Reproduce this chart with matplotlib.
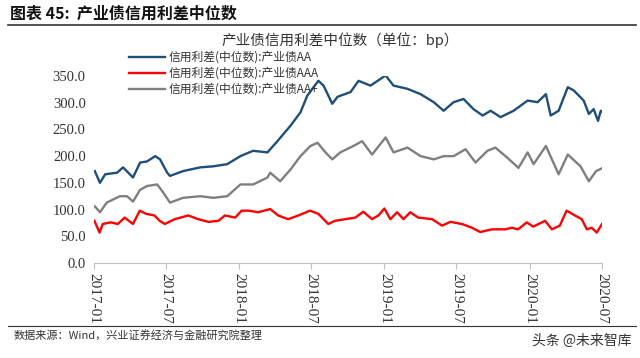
import matplotlib
matplotlib.use("Agg")
import matplotlib.pyplot as plt
import matplotlib.dates as mdates
import pandas as pd
from matplotlib.lines import Line2D

plt.rcParams['font.family'] = ['Noto Sans CJK SC', 'DejaVu Sans']

# ---- data ----
aa_dates = ["2017-01-03", "2017-01-16", "2017-01-29", "2017-02-28", "2017-03-15", "2017-04-09",
            "2017-04-27", "2017-05-14", "2017-06-04", "2017-06-16", "2017-07-04", "2017-07-11",
            "2017-08-13", "2017-09-25", "2017-10-28", "2017-12-02", "2018-01-04", "2018-02-05",
            "2018-03-13", "2018-04-07", "2018-05-10", "2018-06-04", "2018-06-21", "2018-07-04",
            "2018-07-19", "2018-08-01", "2018-08-23", "2018-09-05", "2018-10-08", "2018-10-28",
            "2018-11-27", "2019-01-04", "2019-01-24", "2019-02-28", "2019-04-02", "2019-05-05",
            "2019-05-30", "2019-06-24", "2019-07-19", "2019-08-13", "2019-09-05", "2019-09-25",
            "2019-10-20", "2019-11-22", "2019-12-27", "2020-01-21", "2020-02-11", "2020-02-23",
            "2020-03-14", "2020-04-06", "2020-04-21", "2020-05-16", "2020-05-29", "2020-06-10",
            "2020-06-21", "2020-06-28", "2020-07-03"]
aa_values = [172, 150, 166, 169, 179, 160, 188, 190, 200, 194, 169, 163, 172, 179, 181, 185,
             200, 210, 207, 228, 257, 282, 313, 326, 341, 332, 298, 311, 320, 341, 332, 351,
             332, 326, 316, 301, 285, 301, 307, 288, 276, 285, 273, 285, 304, 301, 316, 276,
             285, 329, 323, 304, 279, 288, 266, 285, 282]

aaa_dates = ["2017-01-02", "2017-01-15", "2017-01-23", "2017-02-12", "2017-03-02", "2017-03-19",
             "2017-04-09", "2017-04-26", "2017-05-12", "2017-06-02", "2017-06-15", "2017-06-28",
             "2017-07-23", "2017-08-26", "2017-09-20", "2017-10-16", "2017-11-10", "2017-11-26",
             "2017-12-22", "2018-01-07", "2018-01-24", "2018-02-18", "2018-03-20", "2018-04-09",
             "2018-05-04", "2018-05-30", "2018-06-28", "2018-07-19", "2018-08-13", "2018-08-30",
             "2018-09-24", "2018-10-20", "2018-11-09", "2018-12-01", "2018-12-17", "2019-01-01",
             "2019-01-16", "2019-02-02", "2019-02-18", "2019-03-07", "2019-03-27", "2019-05-01",
             "2019-05-26", "2019-06-16", "2019-07-15", "2019-08-09", "2019-08-30", "2019-09-28",
             "2019-11-01", "2019-11-17", "2019-12-03", "2019-12-25", "2020-01-10", "2020-02-09",
             "2020-02-26", "2020-03-17", "2020-04-03", "2020-04-24", "2020-05-11", "2020-05-24",
             "2020-06-05", "2020-06-18", "2020-07-01"]
aaa_values = [79, 57, 73, 76, 73, 85, 73, 98, 92, 89, 79, 73, 82, 89, 82, 77, 79, 89, 85, 98,
              98, 95, 101, 89, 82, 89, 98, 92, 73, 79, 82, 85, 96, 82, 89, 102, 82, 95, 82, 95,
              85, 82, 70, 77, 73, 66, 58, 63, 63, 66, 63, 76, 68, 79, 63, 70, 98, 89, 82, 63,
              66, 57, 73]

aap_dates = ["2017-01-03", "2017-01-16", "2017-02-02", "2017-03-07", "2017-03-25", "2017-04-09",
             "2017-04-27", "2017-05-14", "2017-06-09", "2017-06-24", "2017-07-11", "2017-08-13",
             "2017-09-25", "2017-10-28", "2017-12-02", "2018-01-04", "2018-02-05", "2018-03-13",
             "2018-03-20", "2018-04-14", "2018-05-10", "2018-06-04", "2018-06-29", "2018-07-17",
             "2018-08-06", "2018-08-23", "2018-09-12", "2018-10-15", "2018-11-06", "2018-12-01",
             "2019-01-04", "2019-01-24", "2019-02-28", "2019-04-02", "2019-05-05", "2019-05-30",
             "2019-06-24", "2019-07-24", "2019-08-18", "2019-09-17", "2019-10-07", "2019-11-06",
             "2019-12-04", "2019-12-27", "2020-01-11", "2020-02-11", "2020-03-14", "2020-04-06",
             "2020-05-08", "2020-05-29", "2020-06-16", "2020-07-03"]
aap_values = [106, 95, 113, 125, 125, 115, 137, 144, 147, 132, 113, 122, 125, 122, 125, 147,
              147, 160, 169, 153, 175, 200, 219, 225, 207, 194, 207, 219, 228, 203, 235, 207,
              216, 200, 194, 200, 200, 213, 188, 210, 216, 197, 178, 207, 185, 219, 166, 203,
              181, 153, 172, 178]

series_labels = ["信用利差(中位数):产业债AA", "信用利差(中位数):产业债AAA", "信用利差(中位数):产业债AA+"]
series_colors = ["#1f4e79", "#ff0000", "#7f7f7f"]
yticks = [0, 50, 100, 150, 200, 250, 300, 350]

# ---- figure ----
fig = plt.figure(figsize=(6.4, 3.58), dpi=100)
ax = fig.add_axes([94/640, 1-263/358, (602-94)/640, (263-76)/358])

for d, v, lab, c in [(aa_dates, aa_values, series_labels[0], series_colors[0]),
                     (aaa_dates, aaa_values, series_labels[1], series_colors[1]),
                     (aap_dates, aap_values, series_labels[2], series_colors[2])]:
    ax.plot(pd.to_datetime(d), v, color=c, lw=1.7, label=lab)

ax.set_ylim(0, 350)
ax.set_yticks(yticks)
ax.set_yticklabels([f"{t:.1f}" for t in yticks], family=['Liberation Serif'], fontsize=10.5, color='#333333')
ax.set_xlim(pd.Timestamp("2017-01-01"), pd.Timestamp("2020-07-01"))
ax.xaxis.set_major_locator(mdates.MonthLocator(bymonth=[1, 7]))
ax.xaxis.set_major_formatter(mdates.DateFormatter("%Y-%m"))
for lbl in ax.get_xticklabels():
    lbl.set_rotation(270)
    lbl.set_family(['Liberation Serif'])
    lbl.set_fontsize(11)
    lbl.set_color('#333333')
    lbl.set_va('top')
    lbl.set_ha('center')

for s in ['top', 'right', 'left']:
    ax.spines[s].set_visible(False)
ax.spines['bottom'].set_color('#bfbfbf')
ax.tick_params(axis='y', length=0, pad=6)
ax.tick_params(axis='x', length=4, color='#bfbfbf', direction='out', pad=3)

leg = ax.legend(loc='upper left', bbox_to_anchor=(0.06, 1.16), frameon=False, fontsize=8.5,
                handlelength=3.0, labelspacing=0.25, handletextpad=0.3, borderaxespad=0)
for t in leg.get_texts():
    t.set_color('#333333')

# titles and frame text
fig.text(340/640, 1-40/358, "产业债信用利差中位数（单位：bp）", ha='center', va='center', fontsize=10.5, color='#333333')
fig.text(10/640, 1-14/358, "图表 45:  产业债信用利差中位数", ha='left', va='center', fontsize=11.5,
         fontweight='bold', color='#111111')
fig.add_artist(Line2D([8/640, 636/640], [1-25/358, 1-25/358], color='#333333', lw=1.2))
fig.add_artist(Line2D([8/640, 636/640], [1-326/358, 1-326/358], color='#333333', lw=0.8))
fig.text(14/640, 1-335/358, "数据来源：Wind，兴业证券经济与金融研究院整理", ha='left', va='center', fontsize=8, color='#333333')
fig.text(632/640, 1-341/358, "头条 @未来智库", ha='right', va='center', fontsize=10, color='#333333')

fig.savefig("out.png", dpi=100)
